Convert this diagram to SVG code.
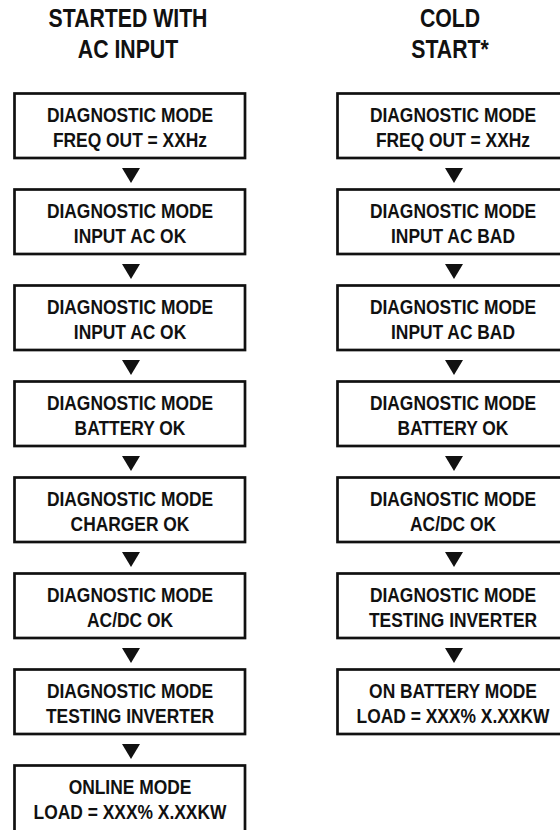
<svg xmlns="http://www.w3.org/2000/svg" width="560" height="830" viewBox="0 0 560 830">
<style>
text{font-family:"Liberation Sans",Arial,sans-serif;font-weight:bold;fill:#111;text-anchor:middle}
.h{font-size:25px}
.b{font-size:20px}
.box{fill:#fff;stroke:#111;stroke-width:2.7}
.arr{fill:#111}
</style>
<rect width="560" height="830" fill="#fff"/>
<g id="title-left">
<text class="h" transform="translate(128 27) scale(0.85 1)">STARTED WITH</text>
<text class="h" transform="translate(128 58) scale(0.85 1)">AC INPUT</text>
</g>
<g id="title-right">
<text class="h" transform="translate(450 27) scale(0.85 1)">COLD</text>
<text class="h" transform="translate(450 58) scale(0.85 1)">START*</text>
</g>
<g id="connectors">
<polygon class="arr" points="122,168 140,168 131,183"/>
<polygon class="arr" points="122,264 140,264 131,279"/>
<polygon class="arr" points="122,360 140,360 131,375"/>
<polygon class="arr" points="122,456 140,456 131,471"/>
<polygon class="arr" points="122,552 140,552 131,567"/>
<polygon class="arr" points="122,648 140,648 131,663"/>
<polygon class="arr" points="122,744 140,744 131,759"/>
<polygon class="arr" points="445,168 463,168 454,183"/>
<polygon class="arr" points="445,264 463,264 454,279"/>
<polygon class="arr" points="445,360 463,360 454,375"/>
<polygon class="arr" points="445,456 463,456 454,471"/>
<polygon class="arr" points="445,552 463,552 454,567"/>
<polygon class="arr" points="445,648 463,648 454,663"/>
</g>
<g id="L1"><rect class="box" x="14.5" y="93.5" width="230.5" height="64.5"/>
<text class="b" transform="translate(130 122) scale(0.87 1)">DIAGNOSTIC MODE</text>
<text class="b" transform="translate(130 147) scale(0.87 1)">FREQ OUT = XXHz</text></g>
<g id="L2"><rect class="box" x="14.5" y="189.5" width="230.5" height="64.5"/>
<text class="b" transform="translate(130 218) scale(0.87 1)">DIAGNOSTIC MODE</text>
<text class="b" transform="translate(130 243) scale(0.87 1)">INPUT AC OK</text></g>
<g id="L3"><rect class="box" x="14.5" y="285.5" width="230.5" height="64.5"/>
<text class="b" transform="translate(130 314) scale(0.87 1)">DIAGNOSTIC MODE</text>
<text class="b" transform="translate(130 339) scale(0.87 1)">INPUT AC OK</text></g>
<g id="L4"><rect class="box" x="14.5" y="381.5" width="230.5" height="64.5"/>
<text class="b" transform="translate(130 410) scale(0.87 1)">DIAGNOSTIC MODE</text>
<text class="b" transform="translate(130 435) scale(0.87 1)">BATTERY OK</text></g>
<g id="L5"><rect class="box" x="14.5" y="477.5" width="230.5" height="64.5"/>
<text class="b" transform="translate(130 506) scale(0.87 1)">DIAGNOSTIC MODE</text>
<text class="b" transform="translate(130 531) scale(0.87 1)">CHARGER OK</text></g>
<g id="L6"><rect class="box" x="14.5" y="573.5" width="230.5" height="64.5"/>
<text class="b" transform="translate(130 602) scale(0.87 1)">DIAGNOSTIC MODE</text>
<text class="b" transform="translate(130 627) scale(0.87 1)">AC/DC OK</text></g>
<g id="L7"><rect class="box" x="14.5" y="669.5" width="230.5" height="64.5"/>
<text class="b" transform="translate(130 698) scale(0.87 1)">DIAGNOSTIC MODE</text>
<text class="b" transform="translate(130 723) scale(0.87 1)">TESTING INVERTER</text></g>
<g id="L8"><rect class="box" x="14.5" y="765.5" width="230.5" height="70"/>
<text class="b" transform="translate(130 794) scale(0.87 1)">ONLINE MODE</text>
<text class="b" transform="translate(130 819) scale(0.87 1)">LOAD = XXX% X.XXKW</text></g>
<g id="R1"><rect class="box" x="337.5" y="93.5" width="230.5" height="64.5"/>
<text class="b" transform="translate(453 122) scale(0.87 1)">DIAGNOSTIC MODE</text>
<text class="b" transform="translate(453 147) scale(0.87 1)">FREQ OUT = XXHz</text></g>
<g id="R2"><rect class="box" x="337.5" y="189.5" width="230.5" height="64.5"/>
<text class="b" transform="translate(453 218) scale(0.87 1)">DIAGNOSTIC MODE</text>
<text class="b" transform="translate(453 243) scale(0.87 1)">INPUT AC BAD</text></g>
<g id="R3"><rect class="box" x="337.5" y="285.5" width="230.5" height="64.5"/>
<text class="b" transform="translate(453 314) scale(0.87 1)">DIAGNOSTIC MODE</text>
<text class="b" transform="translate(453 339) scale(0.87 1)">INPUT AC BAD</text></g>
<g id="R4"><rect class="box" x="337.5" y="381.5" width="230.5" height="64.5"/>
<text class="b" transform="translate(453 410) scale(0.87 1)">DIAGNOSTIC MODE</text>
<text class="b" transform="translate(453 435) scale(0.87 1)">BATTERY OK</text></g>
<g id="R5"><rect class="box" x="337.5" y="477.5" width="230.5" height="64.5"/>
<text class="b" transform="translate(453 506) scale(0.87 1)">DIAGNOSTIC MODE</text>
<text class="b" transform="translate(453 531) scale(0.87 1)">AC/DC OK</text></g>
<g id="R6"><rect class="box" x="337.5" y="573.5" width="230.5" height="64.5"/>
<text class="b" transform="translate(453 602) scale(0.87 1)">DIAGNOSTIC MODE</text>
<text class="b" transform="translate(453 627) scale(0.87 1)">TESTING INVERTER</text></g>
<g id="R7"><rect class="box" x="337.5" y="669.5" width="230.5" height="64.5"/>
<text class="b" transform="translate(453 698) scale(0.87 1)">ON BATTERY MODE</text>
<text class="b" transform="translate(453 723) scale(0.87 1)">LOAD = XXX% X.XXKW</text></g>
</svg>
